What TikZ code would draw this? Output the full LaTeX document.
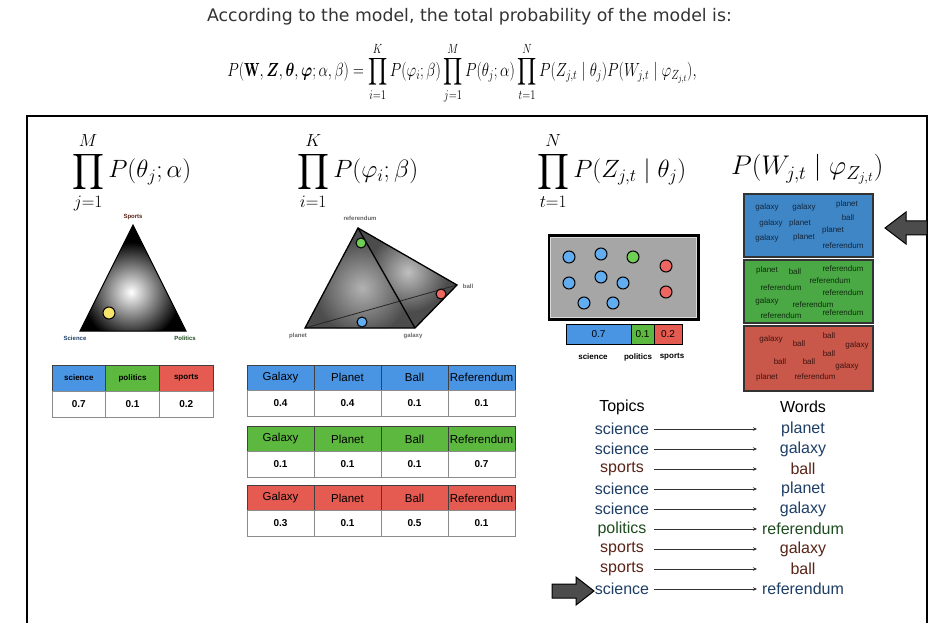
\RequirePackage{fix-cm}
\documentclass[tikz,border=0pt]{standalone}
\usepackage{amsmath,amssymb}
\usepackage{graphicx}
\usepackage{fontspec}
\setsansfont{Liberation Sans}
\newfontfamily\titlefont{DejaVu Sans}
\usepackage{xcolor}
\usepackage{tikz}
\usetikzlibrary{arrows.meta, positioning, calc}
\newcommand{\pxsize}[1]{\fontsize{#1}{#1}\selectfont}
\definecolor{hblue}{HTML}{4A94E4}
\definecolor{hgreen}{HTML}{5DB83F}
\definecolor{hred}{HTML}{E55B52}
\definecolor{bblue}{HTML}{3F86C6}
\definecolor{bgreen}{HTML}{4BA945}
\definecolor{bred}{HTML}{C9574A}
\definecolor{tscience}{HTML}{1E3F66}
\definecolor{tsports}{HTML}{5A2418}
\definecolor{tpolitics}{HTML}{1F4D1F}
\definecolor{dblue}{HTML}{62ADF0}
\definecolor{dgreen}{HTML}{6FCF55}
\definecolor{dred}{HTML}{EE6662}
\definecolor{dyellow}{HTML}{F7E46A}
\definecolor{wblue}{HTML}{13263C}
\definecolor{wgreen}{HTML}{0E2C0E}
\definecolor{wred}{HTML}{3D1410}
\tikzstyle{tcell} = [rectangle, draw=black!75, line width=0.9pt, inner sep=0pt, outer sep=0pt, text=black]
\tikzstyle{lhead} = [tcell, minimum width=53.7, minimum height=26, font=\sffamily\bfseries\pxsize{8}]
\tikzstyle{lval} = [tcell, draw=black!45, fill=white, minimum width=53.7, minimum height=26, font=\sffamily\bfseries\pxsize{10}]
\tikzstyle{mhead} = [tcell, minimum width=67, minimum height=25, font=\sffamily\pxsize{11.5}]
\tikzstyle{mval} = [tcell, draw=black!45, fill=white, minimum width=67, minimum height=26, font=\sffamily\bfseries\pxsize{10}]
\tikzstyle{dot} = [circle, draw=black, line width=1pt, minimum size=12, inner sep=0pt]
\tikzstyle{vlabel} = [font=\sffamily\bfseries\pxsize{6}, inner sep=0pt]
\tikzstyle{bar} = [rectangle, draw=black, line width=1pt, minimum height=20, inner sep=0pt, outer sep=0pt, font=\sffamily\pxsize{10}]
\tikzstyle{barlabel} = [font=\sffamily\bfseries\pxsize{8}, inner sep=0pt]
\tikzstyle{wbox} = [rectangle, draw=black!80, line width=2.5pt, minimum width=129, inner sep=0pt]
\tikzstyle{bword} = [font=\sffamily\pxsize{8}, inner sep=0pt]
\tikzstyle{topic} = [minimum width=64, minimum height=20, inner sep=0pt, outer sep=0pt, font=\sffamily\pxsize{16}]
\tikzstyle{word} = [minimum width=92, minimum height=20, inner sep=0pt, outer sep=0pt, font=\sffamily\pxsize{16}]
\tikzstyle{link} = [line width=1pt, draw=black!80, -{Stealth[length=4pt, width=3.5pt]}]
\tikzstyle{bigarrow} = [fill=black!70, draw=black, line width=1pt]
\tikzstyle{formula} = [anchor=base west, inner sep=0pt, font=\pxsize{25}]

\begin{document}
\begin{tikzpicture}[x=1pt, y=-1pt, node distance=0pt]
    \useasboundingbox (0,0) rectangle (952,636);
    \fill[white] (0,0) rectangle (952,636);

    \node (title) [font=\titlefont\pxsize{17.3}, text=black!80, inner sep=0pt] at (469.5,17) {According to the model, the total probability of the model is:};
    \node (total) [anchor=base, inner sep=0pt, font=\pxsize{19}] at (462,77) {\scalebox{0.79}[1]{$\displaystyle P(\mathbf{W},\boldsymbol{Z},\boldsymbol{\theta},\boldsymbol{\varphi};\alpha,\beta)=\prod_{i=1}^{K}P(\varphi_i;\beta)\prod_{j=1}^{M}P(\theta_j;\alpha)\prod_{t=1}^{N}P(Z_{j,t}\mid\theta_j)P(W_{j,t}\mid\varphi_{Z_{j,t}}),$}};

    \draw[line width=2pt] (27,623) -- (27,116) -- (927,116) -- (927,623);

    \node (ftheta) [formula] at (72,178) {$\displaystyle\prod_{j=1}^{M}P(\theta_j;\alpha)$};
    \node (fphi) [formula] at (297,178) {$\displaystyle\prod_{i=1}^{K}P(\varphi_i;\beta)$};
    \node (fz) [formula] at (537,178) {$\displaystyle\prod_{t=1}^{N}P(Z_{j,t}\mid\theta_j)$};
    \node (fw) [formula, font=\pxsize{27}] at (731,175) {$P(W_{j,t}\mid\varphi_{Z_{j,t}})$};

    \coordinate (sp) at (133,225);
    \coordinate (sc) at (80,331);
    \coordinate (po) at (186,331);
    \fill[black] (sp) -- (sc) -- (po) -- cycle;
    \begin{scope}
        \clip (sp) -- (sc) -- (po) -- cycle;
        \shade[inner color=white, outer color=black] (131,292) circle (50);
    \end{scope}
    \draw[line width=1pt] (sp) -- (sc) -- (po) -- cycle;
    \node (ydot) [dot, fill=dyellow] at (109,313) {};
    \node (lsp) [vlabel, text=tsports] at (133,217) {Sports};
    \node (lsc) [vlabel, text=tscience] at (75,338) {Science};
    \node (lpo) [vlabel, text=tpolitics] at (185,338) {Politics};

    \node (tsci) [lhead, fill=hblue] at (78.85,378) {science};
    \node (tpol) [lhead, fill=hgreen, right=of tsci] {politics};
    \node (tspo) [lhead, fill=hred, right=of tpol] {sports};
    \node (vsci) [lval, below=of tsci] {0.7};
    \node (vpol) [lval, below=of tpol] {0.1};
    \node (vspo) [lval, below=of tspo] {0.2};

    \coordinate (ref) at (358,228);
    \coordinate (pl) at (305,328);
    \coordinate (ga) at (415,328);
    \coordinate (ba) at (457,285);
    \fill[black!70] (pl) -- (ref) -- (ba) -- (ga) -- cycle;
    \begin{scope}
        \clip (pl) -- (ref) -- (ga) -- cycle;
        \shade[inner color=black!30, outer color=black!70] (362,288) circle (48);
    \end{scope}
    \begin{scope}
        \clip (ref) -- (ba) -- (ga) -- cycle;
        \shade[inner color=black!25, outer color=black!70] (408,272) circle (40);
    \end{scope}
    \draw[line width=0.8pt, black!85] (pl) -- (ba);
    \draw[line width=1.3pt] (ref) -- (ga);
    \draw[line width=1.3pt] (pl) -- (ref) -- (ba) -- (ga) -- cycle;
    \node (gdot) [dot, fill=dgreen, minimum size=10] at (361,243) {};
    \node (rdot) [dot, fill=dred, minimum size=10] at (441,294) {};
    \node (bdot) [dot, fill=dblue, minimum size=10] at (362,322) {};
    \node (lref) [vlabel, text=black!60] at (360,218) {referendum};
    \node (lpl) [vlabel, text=black!60] at (298,336) {planet};
    \node (lga) [vlabel, text=black!60] at (413,336) {galaxy};
    \node (lba) [vlabel, text=black!60] at (468,286) {ball};

    \node (ag) [mhead, fill=hblue] at (280.5,377.5) {Galaxy};
    \node (ap) [mhead, fill=hblue, right=of ag] {Planet};
    \node (ab) [mhead, fill=hblue, right=of ap] {Ball};
    \node (ar) [mhead, fill=hblue, right=of ab] {Referendum};
    \node (avg) [mval, below=of ag] {0.4};
    \node (avp) [mval, below=of ap] {0.4};
    \node (avb) [mval, below=of ab] {0.1};
    \node (avr) [mval, below=of ar] {0.1};

    \node (bg) [mhead, fill=hgreen] at (280.5,439) {Galaxy};
    \node (bp) [mhead, fill=hgreen, right=of bg] {Planet};
    \node (bb) [mhead, fill=hgreen, right=of bp] {Ball};
    \node (br) [mhead, fill=hgreen, right=of bb] {Referendum};
    \node (bvg) [mval, below=of bg] {0.1};
    \node (bvp) [mval, below=of bp] {0.1};
    \node (bvb) [mval, below=of bb] {0.1};
    \node (bvr) [mval, below=of br] {0.7};

    \node (cg) [mhead, fill=hred] at (280.5,498) {Galaxy};
    \node (cp) [mhead, fill=hred, right=of cg] {Planet};
    \node (cb) [mhead, fill=hred, right=of cp] {Ball};
    \node (cr) [mhead, fill=hred, right=of cb] {Referendum};
    \node (cvg) [mval, below=of cg] {0.3};
    \node (cvp) [mval, below=of cp] {0.1};
    \node (cvb) [mval, below=of cb] {0.5};
    \node (cvr) [mval, below=of cr] {0.1};

    \node (doc) [rectangle, draw=black, line width=3pt, fill=black!35, minimum width=149, minimum height=83, inner sep=0pt] at (623.5,277.5) {};
    \draw[black!15, line width=1pt] ($(doc.north west)+(3,3)$) rectangle ($(doc.south east)+(-3,-3)$);
    \node (z1) [dot, fill=dblue] at (569,257) {};
    \node (z2) [dot, fill=dblue] at (601,254) {};
    \node (z3) [dot, fill=dgreen] at (633,257) {};
    \node (z4) [dot, fill=dred] at (666,266) {};
    \node (z5) [dot, fill=dblue] at (569,283) {};
    \node (z6) [dot, fill=dblue] at (601,277) {};
    \node (z7) [dot, fill=dblue] at (623,283) {};
    \node (z8) [dot, fill=dred] at (666,292) {};
    \node (z9) [dot, fill=dblue] at (584,303) {};
    \node (z10) [dot, fill=dblue] at (613,303) {};

    \node (psci) [bar, fill=hblue, minimum width=65] at (598.5,334) {0.7};
    \node (ppol) [bar, fill=hgreen, minimum width=23, right=of psci] {0.1};
    \node (pspo) [bar, fill=hred, minimum width=28, right=of ppol] {0.2};
    \node (nsci) [barlabel] at (593,357) {science};
    \node (npol) [barlabel] at (638,357) {politics};
    \node (nspo) [barlabel] at (672,357) {sports};

    \node (boxb) [wbox, fill=bblue, minimum height=63] at (808.5,225.5) {};
    \node (boxg) [wbox, fill=bgreen, minimum height=63] at (808.5,291.5) {};
    \node (boxr) [wbox, fill=bred, minimum height=65] at (808.5,358.5) {};

    \node (bw1) [bword, text=wblue] at (767,207) {galaxy};
    \node (bw2) [bword, text=wblue] at (804,207) {galaxy};
    \node (bw3) [bword, text=wblue] at (847,204) {planet};
    \node (bw4) [bword, text=wblue] at (771,223) {galaxy};
    \node (bw5) [bword, text=wblue] at (800,223) {planet};
    \node (bw6) [bword, text=wblue] at (848,218) {ball};
    \node (bw7) [bword, text=wblue] at (833,230) {planet};
    \node (bw8) [bword, text=wblue] at (767,238) {galaxy};
    \node (bw9) [bword, text=wblue] at (804,237) {planet};
    \node (bw10) [bword, text=wblue] at (843,246) {referendum};

    \node (gw1) [bword, text=wgreen] at (767,270) {planet};
    \node (gw2) [bword, text=wgreen] at (795,272) {ball};
    \node (gw3) [bword, text=wgreen] at (843,269) {referendum};
    \node (gw4) [bword, text=wgreen] at (830,281) {referendum};
    \node (gw5) [bword, text=wgreen] at (781,288) {referendum};
    \node (gw6) [bword, text=wgreen] at (843,293) {referendum};
    \node (gw7) [bword, text=wgreen] at (767,301) {galaxy};
    \node (gw8) [bword, text=wgreen] at (813,305) {referendum};
    \node (gw9) [bword, text=wgreen] at (781,316) {referendum};
    \node (gw10) [bword, text=wgreen] at (843,313) {referendum};

    \node (rw1) [bword, text=wred] at (771,339) {galaxy};
    \node (rw2) [bword, text=wred] at (799,344) {ball};
    \node (rw3) [bword, text=wred] at (829,336) {ball};
    \node (rw4) [bword, text=wred] at (857,345) {galaxy};
    \node (rw5) [bword, text=wred] at (780,362) {ball};
    \node (rw6) [bword, text=wred] at (809,362) {ball};
    \node (rw7) [bword, text=wred] at (829,354) {ball};
    \node (rw8) [bword, text=wred] at (847,366) {galaxy};
    \node (rw9) [bword, text=wred] at (767,377) {planet};
    \node (rw10) [bword, text=wred] at (815,377) {referendum};

    \draw[bigarrow] (885,228) -- (906,212) -- (906,221) -- (927,221) -- (927,235) -- (906,235) -- (906,244) -- cycle;

    \node (htop) [topic] at (622,407) {Topics};
    \node (hword) [word] at (803,407) {Words};
    \node (t1) [topic, text=tscience, below=2pt of htop] {science};
    \node (t2) [topic, text=tscience, below=of t1] {science};
    \node (t3) [topic, text=tsports, below=of t2] {sports};
    \node (t4) [topic, text=tscience, below=of t3] {science};
    \node (t5) [topic, text=tscience, below=of t4] {science};
    \node (t6) [topic, text=tpolitics, below=of t5] {politics};
    \node (t7) [topic, text=tsports, below=of t6] {sports};
    \node (t8) [topic, text=tsports, below=of t7] {sports};
    \node (t9) [topic, text=tscience, below=of t8] {science};
    \node (w1) [word, text=tscience, below=2pt of hword] {planet};
    \node (w2) [word, text=tscience, below=of w1] {galaxy};
    \node (w3) [word, text=tsports, below=of w2] {ball};
    \node (w4) [word, text=tscience, below=of w3] {planet};
    \node (w5) [word, text=tscience, below=of w4] {galaxy};
    \node (w6) [word, text=tpolitics, below=of w5] {referendum};
    \node (w7) [word, text=tsports, below=of w6] {galaxy};
    \node (w8) [word, text=tsports, below=of w7] {ball};
    \node (w9) [word, text=tscience, below=of w8] {referendum};

    \draw [link] (t1) -- (w1);
    \draw [link] (t2) -- (w2);
    \draw [link] (t3) -- (w3);
    \draw [link] (t4) -- (w4);
    \draw [link] (t5) -- (w5);
    \draw [link] (t6) -- (w6);
    \draw [link] (t7) -- (w7);
    \draw [link] (t8) -- (w8);
    \draw [link] (t9) -- (w9);

    \draw[bigarrow] (594,591) -- (576,577) -- (576,584) -- (552,584) -- (552,598) -- (576,598) -- (576,605) -- cycle;
\end{tikzpicture}
\end{document}
